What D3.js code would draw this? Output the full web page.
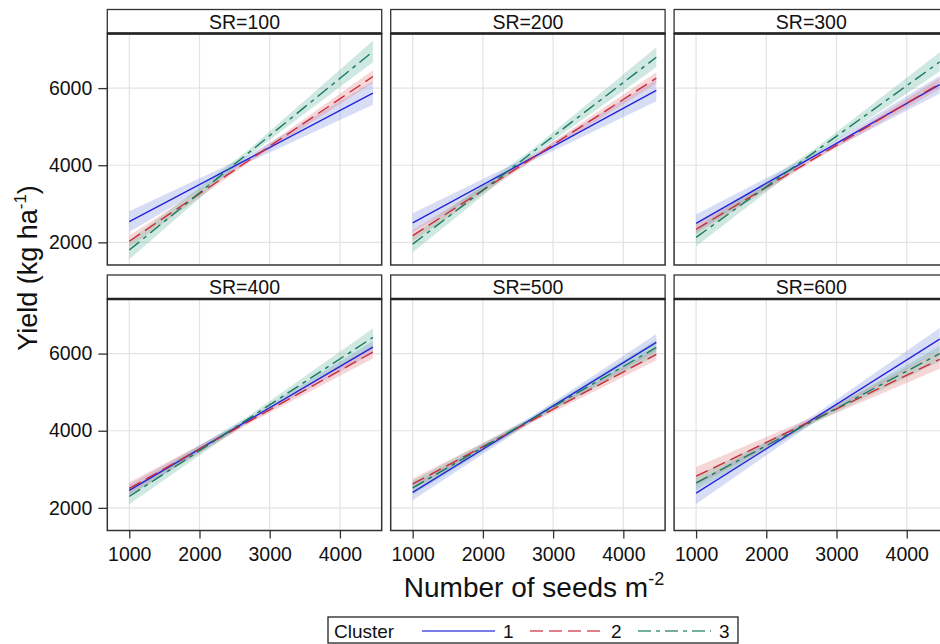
<!DOCTYPE html>
<html>
<head>
<meta charset="utf-8">
<script src="https://cdn.jsdelivr.net/npm/d3@7"></script>
<style>
  body { margin: 0; background: #fff; }
  svg { display: block; font-family: "Liberation Sans", Arial, sans-serif; }
</style>
</head>
<body>
<svg id="chart"></svg>
<script>
// Panel titles (seeding rate)
const panelLabels = ["SR=100", "SR=200", "SR=300", "SR=400", "SR=500", "SR=600"];
const clusterKeys = ["1", "2", "3"];

// Seeds m-2 where the fitted yield and band width were read
const seedPoints = [1000, 2700, 4470];

// Fitted yield (kg/ha) per panel at seedPoints
const fitCluster1 = [[2540, 4171, 5870], [2505, 4188, 5940], [2495, 4257, 6090],
                     [2455, 4275, 6170], [2400, 4306, 6290], [2380, 4338, 6375]];
const fitCluster2 = [[2030, 4122, 6300], [2175, 4177, 6260], [2340, 4192, 6120],
                     [2505, 4237, 6040], [2620, 4266, 5980], [2820, 4305, 5850]];
const fitCluster3 = [[1800, 4323, 6950], [1955, 4329, 6800], [2130, 4360, 6680],
                     [2295, 4316, 6420], [2520, 4304, 6160], [2645, 4289, 6000]];

// Confidence band half width (kg/ha) per panel at seedPoints
const ciCluster1 = [[270, 90, 300], [250, 80, 280], [230, 70, 230],
                    [150, 60, 160], [200, 70, 220], [280, 90, 290]];
const ciCluster2 = [[150, 60, 160], [140, 60, 150], [130, 50, 140],
                    [160, 60, 170], [140, 60, 150], [240, 80, 240]];
const ciCluster3 = [[240, 80, 280], [220, 80, 260], [230, 80, 250],
                    [200, 70, 230], [180, 60, 200], [180, 70, 200]];

const xTicks = [1000, 2000, 3000, 4000];
const yTicks = [2000, 4000, 6000];

class FacetChart {
  constructor(_config) {
    this.config = {
      parentElement: _config.parentElement,
      containerWidth: _config.containerWidth || 940,
      containerHeight: _config.containerHeight || 644,
      left: 107.3,
      top: 9.5,
      panelWidth: 274.4,
      colStep: 283.4,
      rowStep: 265.5,
      stripHeight: 24,
      plotHeight: 231.5,
    };
    this.initVis();
  }

  initVis() {
    let vis = this;
    const c = vis.config;

    vis.svg = d3.select(c.parentElement)
      .attr("width", c.containerWidth)
      .attr("height", c.containerHeight);

    vis.xScale = d3.scaleLinear().domain([687, 4595]).range([0, c.panelWidth]);
    vis.yScale = d3.scaleLinear().domain([1413, 7416]).range([c.plotHeight, 0]);

    vis.colorScale = d3.scaleOrdinal().domain(clusterKeys).range(["#2424dc", "#cf2a3c", "#187a5e"]);
    vis.fillScale = d3.scaleOrdinal().domain(clusterKeys).range(["#7f8fe0", "#e07a7a", "#5fb39b"]);
    vis.dashScale = d3.scaleOrdinal().domain(clusterKeys).range(["none", "13,6", "13,5,4,5"]);

    vis.line = d3.line()
      .x(d => vis.xScale(d.x))
      .y(d => vis.yScale(d.y));

    vis.area = d3.area()
      .x(d => vis.xScale(d.x))
      .y0(d => vis.yScale(d.y - d.h))
      .y1(d => vis.yScale(d.y + d.h));
  }

  updateVis() {
    let vis = this;
    const fits = [fitCluster1, fitCluster2, fitCluster3];
    const cis = [ciCluster1, ciCluster2, ciCluster3];

    vis.panels = panelLabels.map((label, p) => ({
      label: label,
      col: p % 3,
      row: Math.floor(p / 3),
      series: clusterKeys.map((key, k) => ({
        key: key,
        values: seedPoints.map((x, i) => ({ x: x, y: fits[k][p][i], h: cis[k][p][i] }))
      }))
    }));

    vis.renderVis();
  }

  renderVis() {
    let vis = this;
    const c = vis.config;

    const panel = vis.svg.selectAll(".panel")
      .data(vis.panels)
      .join("g")
      .attr("class", "panel")
      .attr("transform", d => `translate(${c.left + d.col * c.colStep},${c.top + d.row * c.rowStep})`);

    // Strip with title
    panel.append("rect")
      .attr("width", c.panelWidth)
      .attr("height", c.stripHeight)
      .attr("fill", "#fff")
      .attr("stroke", "#333")
      .attr("stroke-width", 1.3);

    panel.append("text")
      .attr("x", c.panelWidth / 2)
      .attr("y", c.stripHeight / 2 + 7)
      .attr("text-anchor", "middle")
      .attr("font-size", 19.5)
      .attr("fill", "#111")
      .text(d => d.label);

    // Plot region
    const plot = panel.append("g")
      .attr("transform", `translate(0,${c.stripHeight})`);

    plot.selectAll(".vgrid")
      .data(xTicks)
      .join("line")
      .attr("class", "vgrid")
      .attr("x1", d => vis.xScale(d)).attr("x2", d => vis.xScale(d))
      .attr("y1", 0).attr("y2", c.plotHeight)
      .attr("stroke", "#e3e3e3").attr("stroke-width", 1.2);

    plot.selectAll(".hgrid")
      .data(yTicks)
      .join("line")
      .attr("class", "hgrid")
      .attr("x1", 0).attr("x2", c.panelWidth)
      .attr("y1", d => vis.yScale(d)).attr("y2", d => vis.yScale(d))
      .attr("stroke", "#e3e3e3").attr("stroke-width", 1.2);

    // Confidence bands
    plot.selectAll(".band")
      .data(d => d.series)
      .join("path")
      .attr("class", "band")
      .attr("d", d => vis.area(d.values))
      .attr("fill", d => vis.fillScale(d.key))
      .attr("fill-opacity", 0.3);

    // Fitted lines
    plot.selectAll(".fit")
      .data(d => d.series)
      .join("path")
      .attr("class", "fit")
      .attr("d", d => vis.line(d.values))
      .attr("fill", "none")
      .attr("stroke", d => vis.colorScale(d.key))
      .attr("stroke-width", 1.4)
      .attr("stroke-dasharray", d => vis.dashScale(d.key));

    // Panel border and strip underline
    plot.append("rect")
      .attr("width", c.panelWidth)
      .attr("height", c.plotHeight)
      .attr("fill", "none")
      .attr("stroke", "#333")
      .attr("stroke-width", 1.5);

    plot.append("line")
      .attr("x1", 0).attr("x2", c.panelWidth)
      .attr("y1", 0).attr("y2", 0)
      .attr("stroke", "#222")
      .attr("stroke-width", 2.6);

    // y axis on first column
    plot.filter(d => d.col === 0).append("g")
      .attr("class", "axis y-axis")
      .call(d3.axisLeft(vis.yScale).tickValues(yTicks).tickFormat(d3.format("d"))
        .tickSize(9).tickSizeOuter(0).tickPadding(6));

    // x axis on bottom row
    plot.filter(d => d.row === 1).append("g")
      .attr("class", "axis x-axis")
      .attr("transform", `translate(0,${c.plotHeight})`)
      .call(d3.axisBottom(vis.xScale).tickValues(xTicks).tickFormat(d3.format("d"))
        .tickSize(8).tickSizeOuter(0).tickPadding(9));

    vis.svg.selectAll(".axis .domain").remove();
    vis.svg.selectAll(".axis line").attr("stroke", "#333").attr("stroke-width", 1.3);
    vis.svg.selectAll(".axis text")
      .attr("font-size", 19.5)
      .attr("fill", "#111")
      .attr("font-family", "Liberation Sans, Arial, sans-serif");

    // Axis titles
    const yTitle = vis.svg.append("text")
      .attr("transform", "translate(37,268) rotate(-90)")
      .attr("text-anchor", "middle")
      .attr("font-size", 27)
      .attr("fill", "#111");
    yTitle.append("tspan").text("Yield (kg ha");
    yTitle.append("tspan").attr("dy", -11).attr("font-size", 17).text("-1");
    yTitle.append("tspan").attr("dy", 11).text(")");

    const xTitle = vis.svg.append("text")
      .attr("x", 534)
      .attr("y", 597)
      .attr("text-anchor", "middle")
      .attr("font-size", 28)
      .attr("fill", "#111");
    xTitle.append("tspan").text("Number of seeds m");
    xTitle.append("tspan").attr("dy", -12).attr("font-size", 18).text("-2");

    // Legend
    const legend = vis.svg.append("g").attr("class", "legend");
    legend.append("rect")
      .attr("x", 328).attr("y", 617)
      .attr("width", 410).attr("height", 26)
      .attr("fill", "#fff")
      .attr("stroke", "#222")
      .attr("stroke-width", 1.3);
    legend.append("text")
      .attr("x", 334).attr("y", 637.5)
      .attr("font-size", 19)
      .attr("fill", "#111")
      .text("Cluster");

    const legendStart = [422, 530, 638];
    const item = legend.selectAll(".item")
      .data(clusterKeys)
      .join("g")
      .attr("class", "item")
      .attr("transform", (d, i) => `translate(${legendStart[i]},0)`);
    item.append("line")
      .attr("x1", 0).attr("x2", 73)
      .attr("y1", 631).attr("y2", 631)
      .attr("stroke", d => vis.colorScale(d))
      .attr("stroke-opacity", 0.8)
      .attr("stroke-width", 1.5)
      .attr("stroke-dasharray", d => vis.dashScale(d));
    item.append("text")
      .attr("x", 81).attr("y", 637.5)
      .attr("font-size", 19)
      .attr("fill", "#111")
      .text(d => d);
  }
}

const chart = new FacetChart({ parentElement: "#chart" });
chart.updateVis();
</script>
</body>
</html>
